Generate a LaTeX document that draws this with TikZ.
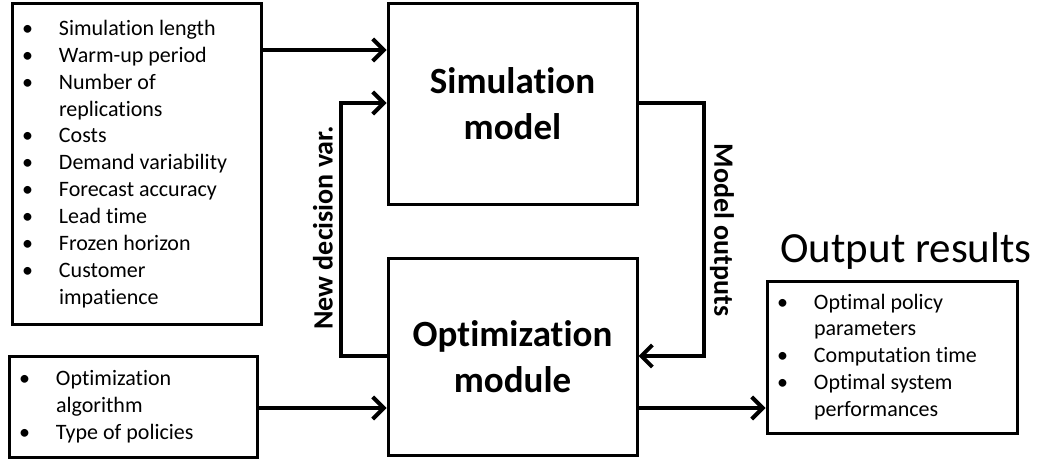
\documentclass[tikz,border=0pt]{standalone}
\usepackage{fontspec}
\setmainfont{Carlito}[Ligatures={NoCommon}]
\usetikzlibrary{arrows.meta}
\newcommand{\bitem}[1]{\makebox[37pt][l]{\textbullet}#1}
\newcommand{\bcont}[1]{\hspace*{37pt}#1}
\begin{document}
\begin{tikzpicture}[x=1pt,y=-1pt,
  box/.style={draw, line width=3pt, inner sep=0pt},
  lst/.style={box, align=flush left, inner xsep=10pt, font=\fontsize{22}{26.9}\selectfont},
  big/.style={box, align=center, minimum width=249pt, font=\bfseries\fontsize{37}{46}\selectfont},
  arr/.style={line width=4pt, -{Straight Barb[length=11pt,width=22pt]}},
  lbl/.style={font=\bfseries\fontsize{28}{30}\selectfont}]
\useasboundingbox (0,0) rectangle (1040,460);
% inputs
\node[lst, text width=229pt, minimum height=320pt] (simpar) at (136.5,164) {\bitem{Simulation length}\\ \bitem{Warm-up period}\\ \bitem{Number of}\\ \bcont{replications}\\ \bitem{Costs}\\ \bitem{Demand variability}\\ \bitem{Forecast accuracy}\\ \bitem{Lead time}\\ \bitem{Frozen horizon}\\ \bitem{Customer}\\ \bcont{impatience}};
\node[lst, text width=228pt, minimum height=101pt] (optpar) at (133,406.5) {\bitem{Optimization}\\ \bcont{algorithm}\\ \bitem{Type of policies}};
% main blocks
\node[big, minimum height=200pt] (sim) at (512.5,104) {Simulation\\model};
\node[big, minimum height=197pt] (opt) at (512.5,356.5) {Optimization\\module};
% results
\node[lst, text width=230pt, minimum height=152pt] (res) at (892,357) {\bitem{Optimal policy}\\ \bcont{parameters}\\ \bitem{Computation time}\\ \bitem{Optimal system}\\ \bcont{performances}};
\node[font=\fontsize{43}{50}\selectfont, anchor=base] (restitle) at (906,262) {Output results};
% connectors
\draw[arr] (simpar.east |- 0,50) -- (sim.west |- 0,50);
\draw[arr] (opt.west |- 0,356) -- ++(-46,0) |- (sim.west |- 0,103);
\draw[arr] (sim.east |- 0,103) -- ++(65,0) |- (opt.east |- 0,356);
\draw[arr] (optpar.east |- 0,408) -- (opt.west |- 0,408);
\draw[arr] (opt.east |- 0,408) -- (res.west |- 0,408);
\node[lbl, rotate=90] (newvar) at (323,228) {New decision var.};
\node[lbl, rotate=-90] (modout) at (722,230) {Model outputs};
\end{tikzpicture}
\end{document}
